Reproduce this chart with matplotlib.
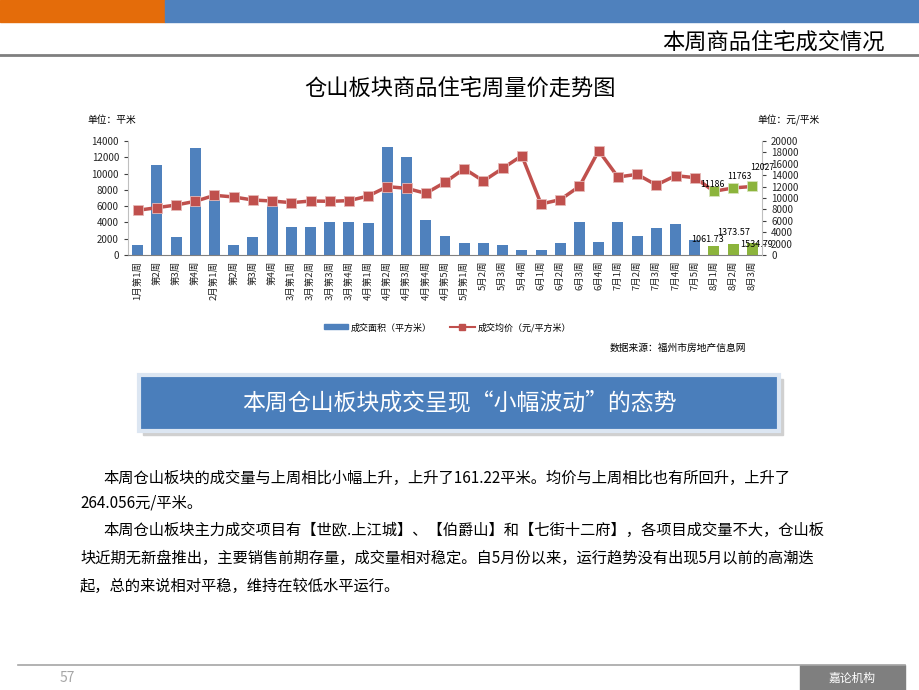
import numpy as np
import matplotlib.pyplot as plt
from matplotlib.patches import Rectangle
from matplotlib.lines import Line2D

plt.rcParams['font.family'] = ['Noto Sans CJK SC', 'DejaVu Sans']

# data
weeks = ['1月第1周', '第2周', '第3周', '第4周', '2月第1周', '第2周', '第3周', '第4周',
         '3月第1周', '3月第2周', '3月第3周', '3月第4周', '4月第1周', '4月第2周', '4月第3周',
         '4月第4周', '4月第5周', '5月第1周', '5月2周', '5月3周', '5月4周', '6月1周', '6月2周',
         '6月3周', '6月4周', '7月1周', '7月2周', '7月3周', '7月4周', '7月5周', '8月1周',
         '8月2周', '8月3周']
area = [1200, 11100, 2200, 13200, 7100, 1200, 2200, 6100, 3400, 3400, 4000, 4000, 3900,
        13300, 12050, 4300, 2300, 1430, 1470, 1230, 580, 580, 1470, 4040, 1550, 4040, 2290,
        3260, 3750, 1880, 1061.73, 1373.57, 1534.79]
price = [7840, 8300, 8770, 9420, 10470, 10180, 9650, 9470, 9180, 9470, 9420, 9530, 10350,
         11990, 11700, 10820, 12750, 15150, 12980, 15200, 17420, 8950, 9710, 12050, 18300,
         13680, 14150, 12280, 13920, 13570, 11186, 11763, 12027]
n_new = 3  # last three weeks highlighted

W, H = 920, 690
blue = '#4F81BD'
green = '#8CB43C'
red = '#C0504D'


def px(x, y):
    return x / W, 1 - y / H


fig = plt.figure(figsize=(9.2, 6.9), dpi=100)

# header / footer decoration
fig.patches.append(Rectangle(px(0, 22), 165 / W, 22 / H, transform=fig.transFigure,
                             color='#E46C0A', zorder=0))
fig.patches.append(Rectangle(px(165, 22), (W - 165) / W, 22 / H, transform=fig.transFigure,
                             color='#4F81BD', zorder=0))
fig.lines.append(Line2D([0, 1], [1 - 55 / H] * 2, transform=fig.transFigure,
                        color='#7F7F7F', linewidth=2))
fig.text(*px(885, 42), '本周商品住宅成交情况', fontsize=16, ha='right', va='center', color='black')

fig.lines.append(Line2D([18 / W, 905 / W], [1 - 665 / H] * 2, transform=fig.transFigure,
                        color='#A6A6A6', linewidth=1.2))
fig.text(*px(60, 678), '57', fontsize=10, color='#A6A6A6', va='center')
fig.patches.append(Rectangle(px(800, 690), 105 / W, 25 / H, transform=fig.transFigure,
                             color='#7F7F7F', zorder=0))
fig.text(*px(852, 678), '嘉论机构', fontsize=8.5, color='white', ha='center', va='center')

# chart
fig.text(*px(460, 88), '仓山板块商品住宅周量价走势图', fontsize=16, ha='center', va='center')
fig.text(*px(87, 120), '单位：平米', fontsize=7, va='center')
fig.text(*px(820, 120), '单位：元/平米', fontsize=7, va='center', ha='right')

ax = fig.add_axes([128 / W, 1 - 255 / H, (762 - 128) / W, (255 - 141) / H])
x = np.arange(len(weeks))
colors = [blue] * (len(weeks) - n_new) + [green] * n_new
ax.bar(x, area, width=0.57, color=colors, zorder=2)
ax.set_xlim(-0.5, len(weeks) - 0.5)
ax.set_ylim(0, 14000)
ax.set_yticks(np.arange(0, 14001, 2000))
ax.set_xticks(x)
ax.set_xticklabels(weeks, rotation=90, fontsize=6.8, color='#262626')
ax.tick_params(axis='x', length=0, pad=4)
ax.tick_params(axis='y', labelsize=7, length=3, colors='#404040', labelcolor='#262626')
for s in ['top', 'right']:
    ax.spines[s].set_visible(False)
ax.spines['left'].set_color('#BFBFBF')
ax.spines['bottom'].set_color('#808080')

ax2 = ax.twinx()
ax2.plot(x, price, color=red, linewidth=2.5, zorder=3)
ax2.plot(x[:-n_new], price[:-n_new], 's', color=red, markersize=7,
         markeredgecolor='#E6B9B8', markeredgewidth=0.6, zorder=4)
ax2.plot(x[-n_new:], price[-n_new:], 's', color=green, markersize=7,
         markeredgecolor='#D7E4BD', markeredgewidth=0.6, zorder=4)
ax2.set_ylim(0, 20000)
ax2.set_yticks(np.arange(0, 20001, 2000))
ax2.tick_params(axis='y', labelsize=7, length=3, colors='#404040', labelcolor='#262626')
for s in ['top', 'left', 'bottom']:
    ax2.spines[s].set_visible(False)
ax2.spines['right'].set_color('#BFBFBF')

# data labels for the latest weeks
new_idx = range(len(weeks) - n_new, len(weeks))
for i, dx, dy in zip(new_idx, [-0.1, 0.3, 0.5], [1250, 2050, 3350]):
    ax2.text(x[i] + dx, price[i] + dy, f'{price[i]:g}', fontsize=6.3, ha='center', va='center',
             zorder=6)
for i, dx, ly in zip(new_idx, [-0.35, 0, 0.2], [1850, 2820, 1230]):
    ax.text(x[i] + dx, ly, f'{area[i]:.2f}', fontsize=6.5, ha='center', va='center')

# legend
fig.patches.append(Rectangle(px(324, 329), 24 / W, 5 / H, transform=fig.transFigure, color=blue))
fig.text(*px(351, 328), '成交面积（平方米）', fontsize=6.5, va='center')
fig.lines.append(Line2D([450 / W, 475 / W], [1 - 327 / H] * 2, transform=fig.transFigure,
                        color=red, linewidth=1.5))
fig.lines.append(Line2D([462 / W], [1 - 327 / H], transform=fig.transFigure,
                        color=red, marker='s', markersize=5))
fig.text(*px(478, 328), '成交均价（元/平方米）', fontsize=6.5, va='center')
fig.text(*px(746, 348), '数据来源：福州市房地产信息网', fontsize=7, va='center', ha='right')

# highlight box
fig.patches.append(Rectangle(px(143, 435), 640 / W, 56 / H, transform=fig.transFigure,
                             color='#D0D0D0', zorder=1))
fig.patches.append(Rectangle(px(139, 431), 640 / W, 56 / H, transform=fig.transFigure,
                             facecolor='#4A7EBB', edgecolor='#DCE6F2', linewidth=3, zorder=2))
fig.text(*px(459, 403), '本周仓山板块成交呈现“小幅波动”的态势', fontsize=16.5,
         color='white', ha='center', va='center', zorder=3)

# commentary
lines = [
    (103, 478, '本周仓山板块的成交量与上周相比小幅上升，上升了161.22平米。均价与上周相比也有所回升，上升了'),
    (80, 503, '264.056元/平米。'),
    (103, 530, '本周仓山板块主力成交项目有【世欧.上江城】、【伯爵山】和【七街十二府】，各项目成交量不大，仓山板'),
    (80, 558, '块近期无新盘推出，主要销售前期存量，成交量相对稳定。自5月份以来，运行趋势没有出现5月以前的高潮迭'),
    (80, 586, '起，总的来说相对平稳，维持在较低水平运行。'),
]
for lx, ly, t in lines:
    fig.text(*px(lx, ly), t, fontsize=11, va='center', color='black')

fig.savefig('out.png', dpi=100)
